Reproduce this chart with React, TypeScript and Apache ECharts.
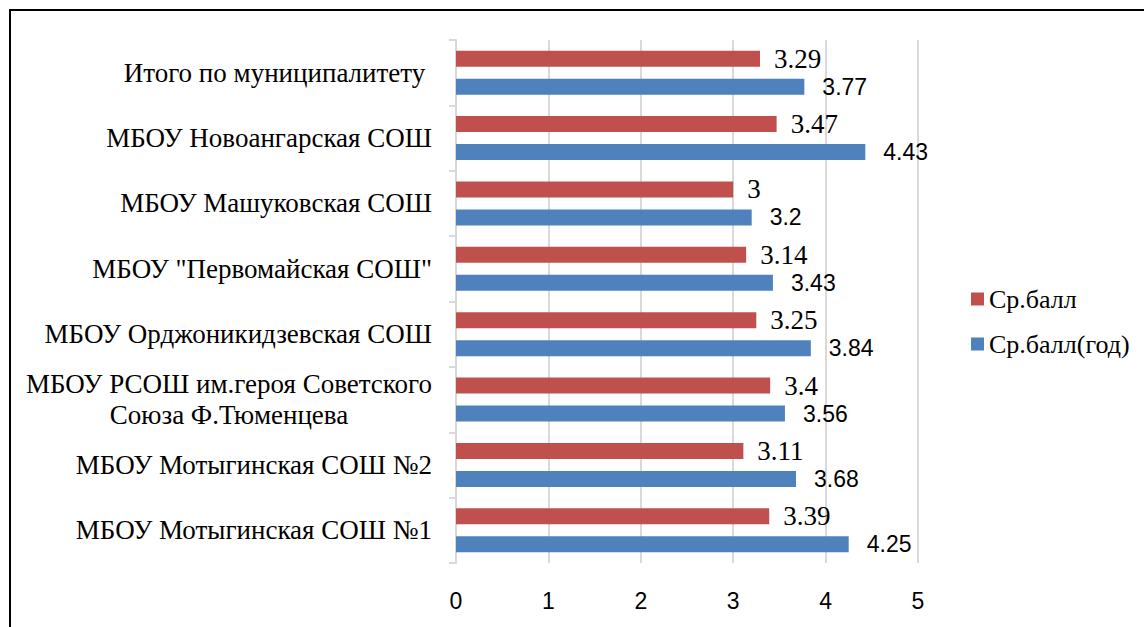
import React, { useEffect, useRef } from "react";
import * as echarts from "echarts";

const categories = [
  "МБОУ Мотыгинская СОШ №1",
  "МБОУ Мотыгинская СОШ №2",
  "МБОУ РСОШ им.героя Советского\nСоюза Ф.Тюменцева",
  "МБОУ Орджоникидзевская СОШ",
  "МБОУ \"Первомайская СОШ\"",
  "МБОУ Машуковская СОШ",
  "МБОУ Новоангарская СОШ",
  "Итого по муниципалитету ",
];
const seriesNames = ["Ср.балл", "Ср.балл(год)"];
const avgScore = [3.39, 3.11, 3.4, 3.25, 3.14, 3, 3.47, 3.29];
const avgScoreYear = [4.25, 3.68, 3.56, 3.84, 3.43, 3.2, 4.43, 3.77];
const xTicks = [0, 1, 2, 3, 4, 5];

const RED = "#C0504D";
const BLUE = "#4F81BD";
const SERIF = "'Liberation Serif', 'Times New Roman', serif";
const SANS = "'Liberation Sans', Arial, sans-serif";

export default function App() {
  const ref = useRef<HTMLDivElement>(null);
  useEffect(() => {
    if (!ref.current) return;
    const chart = echarts.init(ref.current, undefined, { renderer: "svg" });
    chart.setOption({
      animation: false,
      backgroundColor: "#ffffff",
      graphic: [
        {
          type: "rect",
          shape: { x: 10, y: 10, width: 1200, height: 700 },
          style: { fill: "none", stroke: "#000", lineWidth: 2 },
          silent: true,
        },
      ],
      grid: { left: 456, right: 226, top: 40, bottom: 64, containLabel: false },
      legend: {
        orient: "vertical",
        left: 966,
        top: 281,
        itemWidth: 13,
        itemHeight: 13,
        itemGap: 19,
        icon: "rect",
        data: seriesNames,
        textStyle: { fontFamily: SERIF, fontSize: 26, color: "#000" },
      },
      xAxis: {
        type: "value",
        min: xTicks[0],
        max: xTicks[xTicks.length - 1],
        interval: 1,
        axisLine: { show: false },
        axisTick: { show: false },
        splitLine: { show: true, lineStyle: { color: "#d9d9d9", width: 2 } },
        axisLabel: {
          fontFamily: SANS,
          fontSize: 23,
          color: "#000",
          margin: 26,
        },
      },
      yAxis: {
        type: "category",
        data: categories,
        axisLine: { show: true, lineStyle: { color: "#d9d9d9", width: 2 } },
        axisTick: { show: true, length: 7, lineStyle: { color: "#d9d9d9", width: 2 } },
        axisLabel: {
          fontFamily: SERIF,
          fontSize: 27,
          color: "#000",
          margin: 24,
          lineHeight: 31,
          formatter: (v: string) =>
            v
              .split("\n")
              .map((l) => "{c|" + l + "}")
              .join("\n"),
          rich: {
            c: { align: "center", fontFamily: SERIF, fontSize: 27, color: "#000", lineHeight: 31 },
          },
        },
      },
      series: [
        {
          name: seriesNames[0],
          type: "bar",
          data: avgScore,
          barWidth: 16,
          barGap: "75%",
          itemStyle: { color: RED },
          label: {
            show: true,
            position: "right",
            distance: 14,
            fontFamily: SERIF,
            fontSize: 27,
            color: "#000",
          },
        },
        {
          name: seriesNames[1],
          type: "bar",
          data: avgScoreYear,
          barWidth: 16,
          barGap: "75%",
          itemStyle: { color: BLUE },
          label: {
            show: true,
            position: "right",
            distance: 18,
            fontFamily: SANS,
            fontSize: 23,
            color: "#000",
          },
        },
      ],
    });
    return () => chart.dispose();
  }, []);
  return (
    <div
      ref={ref}
      style={{ position: "fixed", left: 0, top: 0, width: 1144, height: 627 }}
    />
  );
}
